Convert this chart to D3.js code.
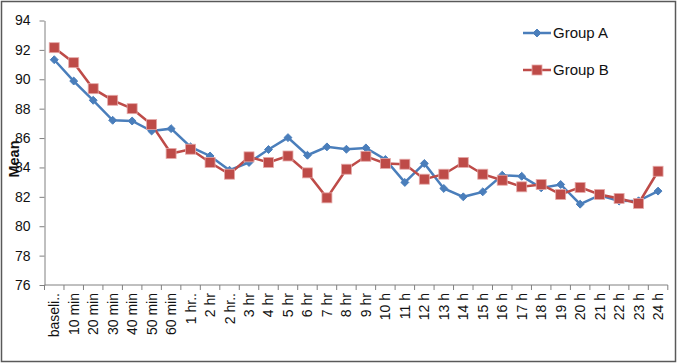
<!DOCTYPE html>
<html>
<head>
<meta charset="utf-8">
<script src="https://cdn.jsdelivr.net/npm/d3@7"></script>
<style>
  body { margin: 0; background: #fff; }
  svg text { font-family: "Liberation Sans", Arial, sans-serif; }
</style>
</head>
<body>
<svg id="drawing_region"></svg>
<script>
const categories = ["baseli..", "10 min", "20 min", "30 min", "40 min", "50 min", "60 min",
    "1 hr..", "2 hr", "2 hr..", "3 hr", "4 hr", "5 hr", "6 hr", "7 hr", "8 hr", "9 hr",
    "10 h", "11 h", "12 h", "13 h", "14 h", "15 h", "16 h", "17 h", "18 h", "19 h",
    "20 h", "21 h", "22 h", "23 h", "24 h"];

const groupA = [91.33, 89.88, 88.57, 87.21, 87.16, 86.48, 86.64, 85.40, 84.78, 83.81,
    84.34, 85.22, 86.03, 84.83, 85.40, 85.24, 85.33, 84.54, 82.98, 84.27, 82.57,
    82.00, 82.34, 83.47, 83.40, 82.61, 82.84, 81.50, 82.11, 81.71, 81.73, 82.39];

const groupB = [92.15, 91.13, 89.36, 88.57, 88.00, 86.92, 84.95, 85.24, 84.34, 83.54,
    84.72, 84.34, 84.78, 83.63, 81.93, 83.88, 84.76, 84.27, 84.22, 83.20, 83.54,
    84.34, 83.54, 83.13, 82.68, 82.84, 82.16, 82.64, 82.16, 81.89, 81.55, 83.74];

const yTicks = [76, 78, 80, 82, 84, 86, 88, 90, 92, 94];

const seriesNames = ["Group A", "Group B"];

const config = {
    width: 678,
    height: 363,
    margin: {top: 20.5, right: 10, bottom: 78, left: 44.5}
};

const svg = d3.select('#drawing_region')
    .attr('width', config.width)
    .attr('height', config.height);

// outer frame
svg.append('rect')
    .attr('x', 1.5).attr('y', 1.5)
    .attr('width', 674).attr('height', 360)
    .attr('fill', 'none')
    .attr('stroke', '#595959')
    .attr('stroke-width', 1.5);

const inner_width = 667.8 - config.margin.left;
const inner_height = 285 - config.margin.top;

const chart = svg.append('g')
    .attr('transform', `translate(${config.margin.left}, ${config.margin.top})`);

const xscale = d3.scaleBand()
    .domain(categories)
    .range([0, inner_width]);

const yscale = d3.scaleLinear()
    .domain([76, 94])
    .range([inner_height, 0]);

// y axis
const yaxis = d3.axisLeft(yscale)
    .tickValues(yTicks)
    .tickSize(5)
    .tickSizeOuter(0)
    .tickPadding(9)
    .tickFormat(d3.format('d'));

const yaxis_group = chart.append('g').call(yaxis);
yaxis_group.selectAll('text')
    .attr('font-size', '14px')
    .attr('fill', '#111');
yaxis_group.selectAll('line, path').attr('stroke', '#808080');

// x axis, ticks on band boundaries
const xaxis_group = chart.append('g')
    .attr('transform', `translate(0, ${inner_height})`);

xaxis_group.append('line')
    .attr('x1', 0).attr('x2', inner_width)
    .attr('stroke', '#808080');

xaxis_group.selectAll('.xtick')
    .data(categories.concat(['__end']))
    .join('line')
    .attr('class', 'xtick')
    .attr('x1', (d, i) => i * xscale.step())
    .attr('x2', (d, i) => i * xscale.step())
    .attr('y1', 0).attr('y2', 5)
    .attr('stroke', '#808080');

xaxis_group.selectAll('.xlabel')
    .data(categories)
    .join('text')
    .attr('class', 'xlabel')
    .attr('text-anchor', 'end')
    .attr('font-size', '14px')
    .attr('fill', '#111')
    .attr('transform', d => `translate(${xscale(d) + xscale.bandwidth() / 2 + 5}, 8) rotate(-90)`)
    .text(d => d);

// y label
svg.append('text')
    .attr('transform', 'translate(19, 159) rotate(-90)')
    .attr('text-anchor', 'middle')
    .attr('font-size', '14.5px')
    .attr('font-weight', 'bold')
    .attr('fill', '#111')
    .text('Mean');

const cx = (d, i) => xscale(categories[i]) + xscale.bandwidth() / 2;

const line = d3.line()
    .x((d, i) => cx(d, i))
    .y(d => yscale(d));

const colorA = '#4a7ebb';
const colorB = '#be4b48';

chart.append('path')
    .datum(groupA)
    .attr('d', line)
    .attr('fill', 'none')
    .attr('stroke', colorA)
    .attr('stroke-width', 2.5);

chart.append('path')
    .datum(groupB)
    .attr('d', line)
    .attr('fill', 'none')
    .attr('stroke', colorB)
    .attr('stroke-width', 2.5);

const diamond = d3.symbol().type(d3.symbolDiamond2).size(40);

chart.selectAll('.markA')
    .data(groupA)
    .join('path')
    .attr('class', 'markA')
    .attr('d', diamond)
    .attr('transform', (d, i) => `translate(${cx(d, i)}, ${yscale(d)})`)
    .attr('fill', colorA)
    .attr('stroke', colorA)
    .attr('stroke-width', 1);

chart.selectAll('.markB')
    .data(groupB)
    .join('rect')
    .attr('class', 'markB')
    .attr('x', (d, i) => cx(d, i) - 5)
    .attr('y', d => yscale(d) - 5)
    .attr('width', 10)
    .attr('height', 10)
    .attr('fill', colorB)
    .attr('stroke', '#e5a9a8')
    .attr('stroke-width', 0.8);

// legend
const legend = svg.append('g');
const legendY = [33, 70];
const legendColors = [colorA, colorB];

seriesNames.forEach((name, i) => {
    const g = legend.append('g').attr('transform', `translate(523, ${legendY[i]})`);
    g.append('line')
        .attr('x1', 0).attr('x2', 28)
        .attr('stroke', legendColors[i])
        .attr('stroke-width', 2.5);
    if (i === 0) {
        g.append('path')
            .attr('d', diamond)
            .attr('transform', 'translate(14, 0)')
            .attr('fill', colorA)
            .attr('stroke', colorA);
    } else {
        g.append('rect')
            .attr('x', 9).attr('y', -5)
            .attr('width', 10).attr('height', 10)
            .attr('fill', colorB)
            .attr('stroke', '#e5a9a8')
            .attr('stroke-width', 0.8);
    }
    g.append('text')
        .attr('x', 30)
        .attr('y', 5)
        .attr('font-size', '15px')
        .attr('fill', '#111')
        .text(name);
});
</script>
</body>
</html>
